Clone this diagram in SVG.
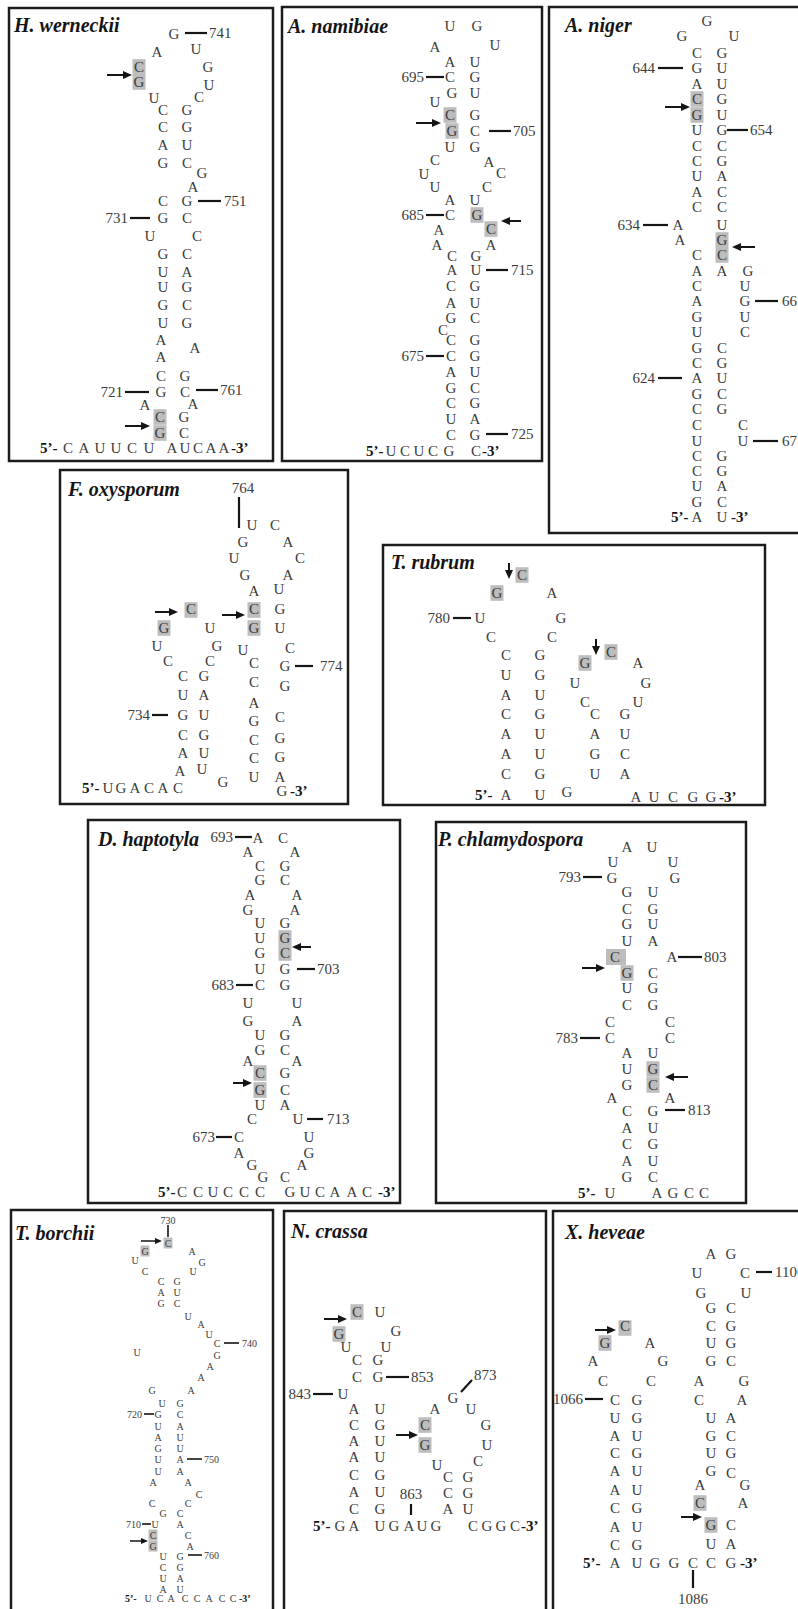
<svg xmlns="http://www.w3.org/2000/svg" width="798" height="1609" viewBox="0 0 798 1609">
<style>
.box{fill:none;stroke:#1c1c1c;stroke-width:2.5}
.ttl{font-family:"Liberation Serif",serif;font-size:20px;font-style:italic;font-weight:bold;fill:#151515}
.nt{font-family:"Liberation Serif",serif;font-size:15px;fill:#3c3c3c;text-anchor:middle;dominant-baseline:central}
.num{font-family:"Liberation Serif",serif;font-size:15px;fill:#3c3c3c;dominant-baseline:central}
.r{text-anchor:end}
.c{text-anchor:middle}
.end{font-family:"Liberation Serif",serif;font-size:15px;font-weight:bold;fill:#151515;dominant-baseline:central}
.tk{stroke:#151515;stroke-width:2.2;fill:none}
.arw{stroke:#151515;stroke-width:2;marker-end:url(#ah)}
.hl{fill:#bdbdbd}
.sm .nt,.sm .num,.sm .end{font-size:10px}
.sm .tk{stroke-width:1.6}
.sm .arw{stroke-width:1.5;marker-end:url(#ahs)}
</style>
<defs>
<marker id="ah" markerUnits="userSpaceOnUse" markerWidth="9" markerHeight="8" refX="6" refY="4" orient="auto"><path d="M0,0L9,4L0,8z" fill="#151515"/></marker>
<marker id="ahs" markerUnits="userSpaceOnUse" markerWidth="7" markerHeight="6" refX="4" refY="3" orient="auto"><path d="M0,0L7,3L0,6z" fill="#151515"/></marker>
<rect id="hl" class="hl" x="-6.5" y="-7.8" width="13" height="15.6"/>
<rect id="hls" class="hl" x="-4.5" y="-5.5" width="9" height="11"/>
</defs>
<rect width="798" height="1609" fill="#ffffff"/>

<!-- H. werneckii -->
<g id="h-werneckii">
<rect class="box" x="9" y="8" width="264" height="453"/>
<text class="ttl" x="14" y="32">H. werneckii</text>
<use href="#hl" x="139" y="67"/><use href="#hl" x="139" y="82"/>
<use href="#hl" x="160" y="417"/><use href="#hl" x="160" y="433"/>
<text class="nt" x="174" y="34">G</text>
<text class="nt" x="157" y="52">A</text><text class="nt" x="196" y="49">U</text>
<text class="nt" x="139 208" y="67">CG</text>
<text class="nt" x="139" y="82">G</text><text class="nt" x="209" y="85">U</text>
<text class="nt" x="154" y="98">U</text><text class="nt" x="199" y="97">C</text>
<text class="nt" x="163 187" y="110">CG</text>
<text class="nt" x="163 187" y="127">CG</text>
<text class="nt" x="163 187" y="145">AU</text>
<text class="nt" x="163 187" y="163">GC</text>
<text class="nt" x="202" y="173">G</text>
<text class="nt" x="193" y="187">A</text>
<text class="nt" x="163 187" y="201">CG</text>
<text class="nt" x="163 187" y="218">GC</text>
<text class="nt" x="150 197" y="236">UC</text>
<text class="nt" x="163 187" y="254">GC</text>
<text class="nt" x="163 187" y="272">UA</text>
<text class="nt" x="163 187" y="287">UG</text>
<text class="nt" x="163 187" y="305">GC</text>
<text class="nt" x="163 187" y="323">UG</text>
<text class="nt" x="161" y="340">A</text><text class="nt" x="195" y="348">A</text>
<text class="nt" x="161" y="357">A</text>
<text class="nt" x="161 185" y="376">CG</text>
<text class="nt" x="161 185" y="392">GC</text>
<text class="nt" x="145" y="405">A</text><text class="nt" x="193" y="404">A</text>
<text class="nt" x="160 184" y="417">CG</text>
<text class="nt" x="160 184" y="433">GC</text>
<text class="end" x="40" y="448">5’-</text>
<text class="nt" x="68 84 100 116 132 149" y="448">CAUUCU</text>
<text class="nt" x="172 185 198 211 224" y="448">AUCAA</text>
<text class="end" x="231" y="448">-3’</text>
<g class="marks">
<line class="tk" x1="185" y1="33" x2="207" y2="33"/><text class="num" x="209" y="33">741</text>
<line class="tk" x1="198" y1="201" x2="221" y2="201"/><text class="num" x="224" y="201">751</text>
<line class="tk" x1="130" y1="218" x2="150" y2="218"/><text class="num r" x="128" y="218">731</text>
<line class="tk" x1="125" y1="392" x2="149" y2="392"/><text class="num r" x="123" y="392">721</text>
<line class="tk" x1="196" y1="390" x2="218" y2="390"/><text class="num" x="220" y="390">761</text>
<line class="arw" x1="107" y1="75" x2="129" y2="75"/>
<line class="arw" x1="125" y1="426" x2="147" y2="426"/>
</g>
</g>

<!-- A. namibiae -->
<g id="a-namibiae">
<rect class="box" x="282" y="7" width="260" height="454"/>
<text class="ttl" x="288" y="33">A. namibiae</text>
<use href="#hl" x="450" y="115"/><use href="#hl" x="452" y="131"/>
<use href="#hl" x="477" y="215"/><use href="#hl" x="491" y="229"/>
<text class="nt" x="450 477" y="26">UG</text>
<text class="nt" x="435" y="47">A</text><text class="nt" x="495" y="45">U</text>
<text class="nt" x="450 475" y="62">AU</text>
<text class="nt" x="450 475" y="77">CG</text>
<text class="nt" x="452 475" y="93">GU</text>
<text class="nt" x="435" y="102">U</text>
<text class="nt" x="450 475" y="115">CG</text>
<text class="nt" x="452 475" y="131">GC</text>
<text class="nt" x="450 475" y="147">UG</text>
<text class="nt" x="435" y="160">C</text><text class="nt" x="489" y="162">A</text>
<text class="nt" x="424" y="174">U</text><text class="nt" x="501" y="173">C</text>
<text class="nt" x="435 487" y="187">UC</text>
<text class="nt" x="450 475" y="200">AU</text>
<text class="nt" x="450 477" y="215">CG</text>
<text class="nt" x="439" y="230">A</text><text class="nt" x="491" y="229">C</text>
<text class="nt" x="437 491" y="245">AA</text>
<text class="nt" x="452 476" y="256">CG</text>
<text class="nt" x="452 476" y="270">AU</text>
<text class="nt" x="451 475" y="286">CG</text>
<text class="nt" x="451 475" y="303">AU</text>
<text class="nt" x="451 475" y="318">GC</text>
<text class="nt" x="443" y="330">C</text>
<text class="nt" x="451 475" y="340">CG</text>
<text class="nt" x="451 475" y="356">CG</text>
<text class="nt" x="451 475" y="372">AU</text>
<text class="nt" x="451 475" y="388">GC</text>
<text class="nt" x="451 475" y="403">CG</text>
<text class="nt" x="451 475" y="419">UA</text>
<text class="nt" x="451 475" y="435">CG</text>
<text class="end" x="366" y="451">5’-</text>
<text class="nt" x="391 405 419 433 449" y="451">UCUCG</text>
<text class="nt" x="476" y="451">C</text>
<text class="end" x="482" y="451">-3’</text>
<g class="marks">
<line class="tk" x1="426" y1="77" x2="444" y2="77"/><text class="num r" x="424" y="77">695</text>
<line class="tk" x1="489" y1="131" x2="511" y2="131"/><text class="num" x="513" y="131">705</text>
<line class="tk" x1="426" y1="215" x2="444" y2="215"/><text class="num r" x="424" y="215">685</text>
<line class="tk" x1="486" y1="270" x2="508" y2="270"/><text class="num" x="511" y="270">715</text>
<line class="tk" x1="426" y1="356" x2="444" y2="356"/><text class="num r" x="424" y="356">675</text>
<line class="tk" x1="486" y1="434" x2="508" y2="434"/><text class="num" x="511" y="434">725</text>
<line class="arw" x1="416" y1="123" x2="438" y2="123"/>
<line class="arw" x1="521" y1="221" x2="504" y2="221"/>
</g>
</g>

<!-- A. niger -->
<g id="a-niger">
<rect class="box" x="549" y="7" width="262" height="526"/>
<text class="ttl" x="565" y="32">A. niger</text>
<use href="#hl" x="697" y="99"/><use href="#hl" x="697" y="115"/>
<use href="#hl" x="722" y="240"/><use href="#hl" x="722" y="255"/>
<text class="nt" x="707" y="21">G</text>
<text class="nt" x="682 734" y="36">GU</text>
<text class="nt" x="697 722" y="53">CG</text>
<text class="nt" x="697 722" y="68">GU</text>
<text class="nt" x="697 722" y="84">AU</text>
<text class="nt" x="697 722" y="99">CG</text>
<text class="nt" x="697 722" y="115">GU</text>
<text class="nt" x="697 722" y="130">UG</text>
<text class="nt" x="697 722" y="146">CC</text>
<text class="nt" x="697 722" y="161">CG</text>
<text class="nt" x="697 722" y="176">UA</text>
<text class="nt" x="697 722" y="192">AC</text>
<text class="nt" x="697 722" y="207">CC</text>
<text class="nt" x="678 722" y="225">AU</text>
<text class="nt" x="680 722" y="240">AG</text>
<text class="nt" x="697 722" y="255">CC</text>
<text class="nt" x="697 722 748" y="271">AAG</text>
<text class="nt" x="697 745" y="286">CU</text>
<text class="nt" x="697 745" y="301">AG</text>
<text class="nt" x="697 745" y="317">GU</text>
<text class="nt" x="697 745" y="332">UC</text>
<text class="nt" x="697 722" y="348">GC</text>
<text class="nt" x="697 722" y="363">CG</text>
<text class="nt" x="697 722" y="378">AU</text>
<text class="nt" x="697 722" y="394">GC</text>
<text class="nt" x="697 722" y="409">CG</text>
<text class="nt" x="697 743" y="425">CC</text>
<text class="nt" x="697 743" y="441">UU</text>
<text class="nt" x="697 722" y="456">CG</text>
<text class="nt" x="697 722" y="471">CG</text>
<text class="nt" x="697 722" y="486">UA</text>
<text class="nt" x="697 722" y="502">GC</text>
<text class="end" x="671" y="517">5’-</text>
<text class="nt" x="697 722" y="517">AU</text>
<text class="end" x="731" y="517">-3’</text>
<g class="marks">
<line class="tk" x1="658" y1="68" x2="683" y2="68"/><text class="num r" x="655" y="68">644</text>
<line class="tk" x1="727" y1="130" x2="748" y2="130"/><text class="num" x="750" y="130">654</text>
<line class="tk" x1="643" y1="225" x2="668" y2="225"/><text class="num r" x="640" y="225">634</text>
<line class="tk" x1="755" y1="301" x2="778" y2="301"/><text class="num" x="782" y="301">66</text>
<line class="tk" x1="658" y1="378" x2="682" y2="378"/><text class="num r" x="655" y="378">624</text>
<line class="tk" x1="753" y1="441" x2="778" y2="441"/><text class="num" x="782" y="441">67</text>
<line class="arw" x1="665" y1="107" x2="687" y2="107"/>
<line class="arw" x1="755" y1="247" x2="735" y2="247"/>
</g>
</g>

<!-- F. oxysporum -->
<g id="f-oxysporum">
<rect class="box" x="60" y="470" width="288" height="334"/>
<text class="ttl" x="68" y="496">F. oxysporum</text>
<use href="#hl" x="191" y="610"/><use href="#hl" x="164" y="628"/>
<use href="#hl" x="254" y="610"/><use href="#hl" x="254" y="628"/>
<text class="nt" x="252 275" y="525">UC</text>
<text class="nt" x="243 288" y="542">GA</text>
<text class="nt" x="234 300" y="558">UC</text>
<text class="nt" x="245 288" y="575">GA</text>
<text class="nt" x="254" y="591">A</text><text class="nt" x="279" y="589">U</text>
<text class="nt" x="191 254 280" y="609">CCG</text>
<text class="nt" x="164 210 254 280" y="628">GUGU</text>
<text class="nt" x="157 217" y="646">UG</text><text class="nt" x="243" y="650">U</text><text class="nt" x="290" y="648">C</text>
<text class="nt" x="168 210" y="661">CC</text><text class="nt" x="254" y="663">C</text><text class="nt" x="285" y="666">G</text>
<text class="nt" x="183 204" y="676">CG</text><text class="nt" x="254" y="682">C</text><text class="nt" x="285" y="686">G</text>
<text class="nt" x="183 204" y="695">UA</text><text class="nt" x="254" y="703">A</text>
<text class="nt" x="183 204" y="715">GU</text><text class="nt" x="254" y="721">G</text><text class="nt" x="280" y="717">C</text>
<text class="nt" x="183 204" y="735">CG</text><text class="nt" x="254" y="740">C</text><text class="nt" x="280" y="738">G</text>
<text class="nt" x="183 204" y="753">AU</text><text class="nt" x="254" y="758">C</text><text class="nt" x="280" y="757">G</text>
<text class="nt" x="180" y="771">A</text><text class="nt" x="202" y="769">U</text><text class="nt" x="254 280" y="777">UA</text>
<text class="end" x="82" y="788">5’-</text>
<text class="nt" x="108 121 135 149 163 178" y="788">UGACAC</text>
<text class="nt" x="223" y="782">G</text>
<text class="nt" x="282" y="791">G</text><text class="end" x="290" y="791">-3’</text>
<g class="marks">
<text class="num c" x="243" y="488">764</text>
<line class="tk" x1="239" y1="497" x2="239" y2="528"/>
<line class="tk" x1="295" y1="666" x2="313" y2="666"/><text class="num" x="320" y="666">774</text>
<line class="tk" x1="152" y1="715" x2="168" y2="715"/><text class="num r" x="150" y="715">734</text>
<line class="arw" x1="155" y1="612" x2="175" y2="612"/>
<line class="arw" x1="222" y1="615" x2="242" y2="615"/>
</g>
</g>

<!-- T. rubrum -->
<g id="t-rubrum">
<rect class="box" x="383" y="545" width="382" height="260"/>
<text class="ttl" x="391" y="569">T. rubrum</text>
<use href="#hl" x="522" y="575"/><use href="#hl" x="497" y="593"/>
<use href="#hl" x="611" y="652"/><use href="#hl" x="585" y="663"/>
<text class="nt" x="522" y="575">C</text>
<text class="nt" x="497 552" y="593">GA</text>
<text class="nt" x="480 561" y="618">UG</text>
<text class="nt" x="491 552" y="637">CC</text>
<text class="nt" x="506 540" y="655">CG</text><text class="nt" x="611" y="652">C</text>
<text class="nt" x="585 638" y="663">GA</text>
<text class="nt" x="506 540" y="675">UG</text><text class="nt" x="575 646" y="683">UG</text>
<text class="nt" x="506 540" y="695">AU</text><text class="nt" x="585 638" y="702">CU</text>
<text class="nt" x="506 540" y="714">CG</text><text class="nt" x="595 625" y="714">CG</text>
<text class="nt" x="506 540" y="734">AU</text><text class="nt" x="595 625" y="734">AU</text>
<text class="nt" x="506 540" y="754">AU</text><text class="nt" x="595 625" y="754">GC</text>
<text class="nt" x="506 540" y="774">CG</text><text class="nt" x="595 625" y="774">UA</text>
<text class="end" x="475" y="795">5’-</text>
<text class="nt" x="506 540" y="795">AU</text><text class="nt" x="567" y="792">G</text>
<text class="nt" x="636 654 673 693 711" y="797">AUCGG</text>
<text class="end" x="719" y="797">-3’</text>
<g class="marks">
<line class="tk" x1="453" y1="618" x2="471" y2="618"/><text class="num r" x="450" y="618">780</text>
<line class="arw" x1="509" y1="563" x2="509" y2="576"/>
<line class="arw" x1="596" y1="639" x2="596" y2="652"/>
</g>
</g>

<!-- D. haptotyla -->
<g id="d-haptotyla">
<rect class="box" x="88" y="820" width="312" height="383"/>
<text class="ttl" x="98" y="846">D. haptotyla</text>
<use href="#hl" x="285" y="938"/><use href="#hl" x="285" y="953"/>
<use href="#hl" x="260" y="1073"/><use href="#hl" x="260" y="1090"/>
<text class="nt" x="258 283" y="838">AC</text>
<text class="nt" x="248 295" y="852">AA</text>
<text class="nt" x="260 285" y="866">CG</text>
<text class="nt" x="260 285" y="880">GC</text>
<text class="nt" x="250 297" y="895">AA</text>
<text class="nt" x="248 295" y="910">GA</text>
<text class="nt" x="260 285" y="923">UG</text>
<text class="nt" x="260 285" y="938">UG</text>
<text class="nt" x="260 285" y="953">GC</text>
<text class="nt" x="260 285" y="969">UG</text>
<text class="nt" x="260 285" y="985">CG</text>
<text class="nt" x="248 297" y="1003">UU</text>
<text class="nt" x="248 297" y="1021">GA</text>
<text class="nt" x="260 285" y="1035">UG</text>
<text class="nt" x="260 285" y="1050">GC</text>
<text class="nt" x="248 297" y="1061">AA</text>
<text class="nt" x="260 285" y="1073">CG</text>
<text class="nt" x="260 285" y="1090">GC</text>
<text class="nt" x="260 285" y="1105">UA</text>
<text class="nt" x="252 298" y="1119">CU</text>
<text class="nt" x="239 309" y="1137">CU</text>
<text class="nt" x="239 309" y="1153">AG</text>
<text class="nt" x="252 302" y="1165">GA</text>
<text class="nt" x="263 285" y="1177">GC</text>
<text class="end" x="158" y="1192">5’-</text>
<text class="nt" x="182 198 213 228 244 260" y="1192">CCUCCC</text>
<text class="nt" x="290 305 320 335 352 367" y="1192">GUCAAC</text>
<text class="end" x="378" y="1192">-3’</text>
<g class="marks">
<line class="tk" x1="235" y1="837" x2="252" y2="837"/><text class="num r" x="233" y="837">693</text>
<line class="tk" x1="297" y1="969" x2="315" y2="969"/><text class="num" x="317" y="969">703</text>
<line class="tk" x1="236" y1="985" x2="253" y2="985"/><text class="num r" x="234" y="985">683</text>
<line class="tk" x1="307" y1="1119" x2="323" y2="1119"/><text class="num" x="327" y="1119">713</text>
<line class="tk" x1="216" y1="1137" x2="232" y2="1137"/><text class="num r" x="215" y="1137">673</text>
<line class="arw" x1="311" y1="947" x2="295" y2="947"/>
<line class="arw" x1="233" y1="1083" x2="249" y2="1083"/>
</g>
</g>

<!-- P. chlamydospora -->
<g id="p-chlamydospora">
<rect class="box" x="436" y="822" width="310" height="381"/>
<text class="ttl" x="438" y="846">P. chlamydospora</text>
<rect class="hl" x="606" y="949" width="20" height="16"/><use href="#hl" x="627" y="973"/>
<use href="#hl" x="653" y="1069"/><use href="#hl" x="653" y="1085"/>
<text class="nt" x="627 652" y="847">AU</text>
<text class="nt" x="613 673" y="862">UU</text>
<text class="nt" x="612 675" y="878">GG</text>
<text class="nt" x="627 653" y="892">GU</text>
<text class="nt" x="627 653" y="909">CG</text>
<text class="nt" x="627 653" y="924">GU</text>
<text class="nt" x="627 653" y="941">UA</text>
<text class="nt" x="615 672" y="957">CA</text>
<text class="nt" x="627 653" y="973">GC</text>
<text class="nt" x="627 653" y="988">UG</text>
<text class="nt" x="627 653" y="1005">CG</text>
<text class="nt" x="610 670" y="1022">CC</text>
<text class="nt" x="610 670" y="1038">CC</text>
<text class="nt" x="627 653" y="1053">AU</text>
<text class="nt" x="627 653" y="1069">UG</text>
<text class="nt" x="627 653" y="1085">GC</text>
<text class="nt" x="612 670" y="1098">AA</text>
<text class="nt" x="627 653" y="1111">CG</text>
<text class="nt" x="627 653" y="1128">AU</text>
<text class="nt" x="627 653" y="1144">CG</text>
<text class="nt" x="627 653" y="1161">AU</text>
<text class="nt" x="627 653" y="1177">GC</text>
<text class="end" x="578" y="1193">5’-</text>
<text class="nt" x="610 657 673 689 704" y="1193">UAGCC</text>
<g class="marks">
<line class="tk" x1="583" y1="877" x2="602" y2="877"/><text class="num r" x="581" y="877">793</text>
<line class="tk" x1="678" y1="957" x2="702" y2="957"/><text class="num" x="704" y="957">803</text>
<line class="tk" x1="580" y1="1038" x2="600" y2="1038"/><text class="num r" x="578" y="1038">783</text>
<line class="tk" x1="665" y1="1110" x2="685" y2="1110"/><text class="num" x="688" y="1110">813</text>
<line class="arw" x1="582" y1="968" x2="602" y2="968"/>
<line class="arw" x1="688" y1="1077" x2="668" y2="1077"/>
</g>
</g>

<!-- T. borchii -->
<g id="t-borchii" class="sm">
<rect class="box" x="11" y="1210" width="262" height="410"/>
<text class="ttl" x="15" y="1240">T. borchii</text>
<use href="#hls" x="168" y="1243"/><use href="#hls" x="145" y="1251"/>
<use href="#hls" x="153" y="1535"/><use href="#hls" x="153" y="1546"/>
<text class="nt" x="168" y="1243">C</text>
<text class="nt" x="145 192" y="1251">GA</text>
<text class="nt" x="135" y="1260">U</text><text class="nt" x="202" y="1262">G</text>
<text class="nt" x="145 193" y="1271">CU</text>
<text class="nt" x="161 177" y="1281">CG</text>
<text class="nt" x="161 177" y="1292">AU</text>
<text class="nt" x="161 177" y="1303">GC</text>
<text class="nt" x="188" y="1316">U</text>
<text class="nt" x="201" y="1324">A</text>
<text class="nt" x="209" y="1334">U</text>
<text class="nt" x="217" y="1343">C</text>
<text class="nt" x="137" y="1352">U</text><text class="nt" x="217" y="1355">G</text>
<text class="nt" x="210" y="1366">A</text>
<text class="nt" x="201" y="1377">A</text>
<text class="nt" x="152 191" y="1390">GA</text>
<text class="nt" x="162 180" y="1403">UG</text>
<text class="nt" x="158 180" y="1414">GC</text>
<text class="nt" x="158 180" y="1426">UA</text>
<text class="nt" x="158 180" y="1437">AU</text>
<text class="nt" x="158 180" y="1448">GU</text>
<text class="nt" x="158 180" y="1459">UA</text>
<text class="nt" x="158 180" y="1471">UA</text>
<text class="nt" x="153 188" y="1482">AA</text>
<text class="nt" x="199" y="1494">C</text>
<text class="nt" x="152 188" y="1503">CC</text>
<text class="nt" x="163 180" y="1513">GC</text>
<text class="nt" x="155 180" y="1524">UA</text>
<text class="nt" x="153 188" y="1535">CC</text>
<text class="nt" x="153 190" y="1546">GA</text>
<text class="nt" x="163 180" y="1556">UG</text>
<text class="nt" x="163 180" y="1567">CG</text>
<text class="nt" x="163 180" y="1578">UA</text>
<text class="nt" x="163 180" y="1589">AU</text>
<text class="end" x="125" y="1598">5’-</text>
<text class="nt" x="148 160 171 185 197 209 222 233" y="1598">UCACCACC</text>
<text class="end" x="239" y="1598">-3’</text>
<g class="marks">
<text class="num c" x="168" y="1220">730</text>
<line class="tk" x1="168" y1="1225" x2="168" y2="1237"/>
<line class="tk" x1="224" y1="1343" x2="239" y2="1343"/><text class="num" x="242" y="1343">740</text>
<line class="tk" x1="144" y1="1414" x2="154" y2="1414"/><text class="num r" x="142" y="1414">720</text>
<line class="tk" x1="187" y1="1459" x2="202" y2="1459"/><text class="num" x="204" y="1459">750</text>
<line class="tk" x1="142" y1="1524" x2="151" y2="1524"/><text class="num r" x="141" y="1524">710</text>
<line class="tk" x1="188" y1="1555" x2="202" y2="1555"/><text class="num" x="204" y="1555">760</text>
<line class="arw" x1="141" y1="1241" x2="159" y2="1241"/>
<line class="arw" x1="130" y1="1541" x2="145" y2="1541"/>
</g>
</g>

<!-- N. crassa -->
<g id="n-crassa">
<rect class="box" x="284" y="1211" width="262" height="410"/>
<text class="ttl" x="291" y="1238">N. crassa</text>
<use href="#hl" x="357" y="1312"/><use href="#hl" x="339" y="1334"/>
<use href="#hl" x="425" y="1425"/><use href="#hl" x="425" y="1445"/>
<text class="nt" x="357 380" y="1312">CU</text>
<text class="nt" x="339" y="1334">G</text><text class="nt" x="396" y="1331">G</text>
<text class="nt" x="346 386" y="1347">UU</text>
<text class="nt" x="357 378" y="1360">CG</text>
<text class="nt" x="357 378" y="1377">CG</text>
<text class="nt" x="343" y="1394">U</text>
<text class="nt" x="453" y="1398">G</text>
<text class="nt" x="354 380" y="1409">AU</text><text class="nt" x="435 471" y="1409">AU</text>
<text class="nt" x="354 380" y="1425">CG</text><text class="nt" x="425 486" y="1425">CG</text>
<text class="nt" x="354 380" y="1441">AU</text>
<text class="nt" x="425 487" y="1445">GU</text>
<text class="nt" x="354 380" y="1457">AU</text>
<text class="nt" x="478" y="1461">C</text><text class="nt" x="437" y="1465">U</text>
<text class="nt" x="354 380" y="1475">CG</text><text class="nt" x="448 468" y="1477">CG</text>
<text class="nt" x="354 380" y="1492">AU</text><text class="nt" x="448 468" y="1493">CG</text>
<text class="nt" x="354 380" y="1509">CG</text><text class="nt" x="448 468" y="1509">AU</text>
<text class="end" x="313" y="1526">5’-</text>
<text class="nt" x="340 354" y="1526">GA</text>
<text class="nt" x="380 394 409 422 436" y="1526">UGAUG</text>
<text class="nt" x="473 487 501 515" y="1526">CGGC</text>
<text class="end" x="521" y="1526">-3’</text>
<g class="marks">
<line class="tk" x1="386" y1="1377" x2="409" y2="1377"/><text class="num" x="411" y="1377">853</text>
<line class="tk" x1="313" y1="1394" x2="333" y2="1394"/><text class="num r" x="311" y="1394">843</text>
<line class="tk" x1="461" y1="1392" x2="472" y2="1380"/><text class="num" x="474" y="1375">873</text>
<text class="num c" x="411" y="1494">863</text>
<line class="tk" x1="411" y1="1504" x2="411" y2="1515"/>
<line class="arw" x1="324" y1="1319" x2="344" y2="1319"/>
<line class="arw" x1="396" y1="1435" x2="415" y2="1435"/>
</g>
</g>

<!-- X. heveae -->
<g id="x-heveae">
<rect class="box" x="553" y="1211" width="262" height="410"/>
<text class="ttl" x="565" y="1239">X. heveae</text>
<use href="#hl" x="625" y="1328"/><use href="#hl" x="605" y="1343"/>
<use href="#hl" x="700" y="1503"/><use href="#hl" x="711" y="1525"/>
<text class="nt" x="711 731" y="1254">AG</text>
<text class="nt" x="697 745" y="1273">UC</text>
<text class="nt" x="701 746" y="1293">GU</text>
<text class="nt" x="711 731" y="1308">GC</text>
<text class="nt" x="625" y="1326">C</text><text class="nt" x="711 731" y="1326">CG</text>
<text class="nt" x="605 650" y="1343">GA</text><text class="nt" x="711 731" y="1343">UG</text>
<text class="nt" x="593 663" y="1361">AG</text><text class="nt" x="711 731" y="1361">GC</text>
<text class="nt" x="603 651" y="1381">CC</text><text class="nt" x="699 744" y="1381">AG</text>
<text class="nt" x="615 637" y="1400">CG</text><text class="nt" x="699 742" y="1400">CA</text>
<text class="nt" x="615 637" y="1418">UG</text><text class="nt" x="711 731" y="1418">UA</text>
<text class="nt" x="615 637" y="1436">AU</text><text class="nt" x="711 731" y="1436">GC</text>
<text class="nt" x="615 637" y="1453">CG</text><text class="nt" x="711 731" y="1453">UG</text>
<text class="nt" x="615 637" y="1471">AU</text><text class="nt" x="711" y="1471">G</text><text class="nt" x="731" y="1473">C</text>
<text class="nt" x="700 745" y="1485">AG</text>
<text class="nt" x="615 637" y="1490">AU</text>
<text class="nt" x="700 743" y="1503">CA</text>
<text class="nt" x="615 637" y="1508">CG</text>
<text class="nt" x="711 731" y="1525">GC</text>
<text class="nt" x="615 637" y="1527">AU</text>
<text class="nt" x="711 731" y="1544">UA</text>
<text class="nt" x="615 637" y="1545">CG</text>
<text class="end" x="583" y="1563">5’-</text>
<text class="nt" x="615 637 655 674 693 711 731" y="1563">AUGGCCG</text>
<text class="end" x="740" y="1563">-3’</text>
<g class="marks">
<line class="tk" x1="756" y1="1272" x2="772" y2="1272"/><text class="num" x="775" y="1272">1106</text>
<line class="tk" x1="585" y1="1399" x2="603" y2="1399"/><text class="num r" x="583" y="1399">1066</text>
<line class="tk" x1="693" y1="1570" x2="693" y2="1588"/><text class="num c" x="693" y="1599">1086</text>
<line class="arw" x1="595" y1="1330" x2="613" y2="1330"/>
<line class="arw" x1="681" y1="1517" x2="699" y2="1517"/>
</g>
</g>
</svg>
